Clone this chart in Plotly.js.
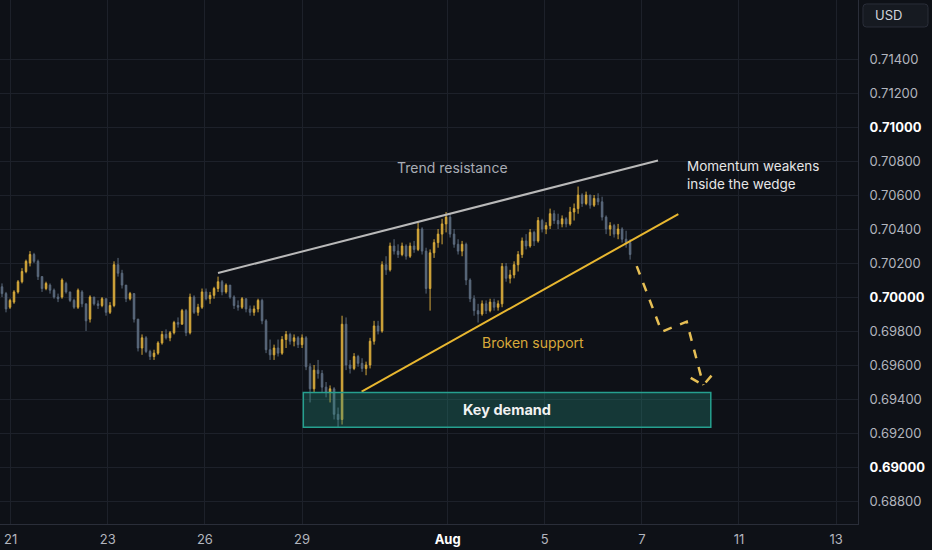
<!DOCTYPE html>
<html><head><meta charset="utf-8">
<script src="https://cdn.plot.ly/plotly-3.0.1.min.js"></script>
<style>html,body{margin:0;padding:0;background:#0e1117;}#chart{width:932px;height:550px;}</style>
</head><body><div id="chart"></div>
<script>
// ~2-hour bars, AUD/USD-style price series
const barOpen = [
0.7006,0.7002,0.6994,0.6997,0.7003,0.7009,0.7015,0.7020,0.7025,0.7021,
0.7012,0.7005,0.7007,0.7004,0.7000,0.7000,0.7008,0.7003,0.6998,0.6994,
0.7003,0.6996,0.6987,0.7000,0.6996,0.6995,0.6999,0.6991,0.6995,0.7019,
0.7014,0.7007,0.6999,0.7002,0.6987,0.6970,0.6976,0.6968,0.6965,0.6967,
0.6973,0.6978,0.6976,0.6979,0.6985,0.6984,0.6992,0.6979,0.7000,0.6991,
0.6994,0.7003,0.6999,0.7001,0.7005,0.7009,0.7003,0.7007,0.7000,0.6995,
0.6994,0.6999,0.6993,0.6991,0.6993,0.6998,0.6986,0.6969,0.6966,0.6970,
0.6967,0.6975,0.6978,0.6974,0.6976,0.6972,0.6976,0.6959,0.6946,0.6957,
0.6955,0.6947,0.6944,0.6946,0.6931,0.6928,0.6984,0.6960,0.6958,0.6965,
0.6961,0.6958,0.6960,0.6974,0.6983,0.6980,0.7019,0.7016,0.7030,0.7027,
0.7025,0.7030,0.7024,0.7030,0.7028,0.7040,0.7027,0.7005,0.7026,0.7032,
0.7037,0.7043,0.7047,0.7037,0.7031,0.7027,0.7031,0.7010,0.6999,0.6992,
0.6990,0.6996,0.6992,0.6997,0.6994,0.6996,0.7018,0.7011,0.7013,0.7019,
0.7025,0.7033,0.7030,0.7038,0.7033,0.7045,0.7040,0.7042,0.7049,0.7045,
0.7043,0.7046,0.7043,0.7050,0.7052,0.7060,0.7055,0.7060,0.7054,0.7058,
0.7056,0.7047,0.7040,0.7042,0.7037,0.7040,0.7034,0.7032];
const barHigh = [
0.7008,0.7003,0.6999,0.7004,0.7010,0.7017,0.7022,0.7027,0.7026,0.7022,
0.7012,0.7009,0.7008,0.7005,0.7002,0.7011,0.7009,0.7003,0.6999,0.7005,
0.7004,0.6996,0.7001,0.7000,0.6998,0.7000,0.6999,0.6997,0.7021,0.7023,
0.7016,0.7007,0.7003,0.7002,0.6987,0.6978,0.6977,0.6969,0.6969,0.6974,
0.6980,0.6981,0.6980,0.6986,0.6988,0.6993,0.6993,0.7002,0.7001,0.6996,
0.7005,0.7005,0.7003,0.7006,0.7012,0.7010,0.7008,0.7007,0.7001,0.6998,
0.7000,0.6999,0.6995,0.6995,0.6999,0.6999,0.6987,0.6975,0.6972,0.6975,
0.6977,0.6980,0.6979,0.6978,0.6977,0.6978,0.6977,0.6961,0.6960,0.6963,
0.6957,0.6950,0.6948,0.6947,0.6935,0.6989,0.6988,0.6963,0.6967,0.6966,
0.6964,0.6962,0.6976,0.6986,0.6986,0.7021,0.7024,0.7032,0.7034,0.7031,
0.7032,0.7031,0.7032,0.7033,0.7044,0.7041,0.7029,0.7028,0.7034,0.7040,
0.7046,0.7050,0.7049,0.7040,0.7034,0.7033,0.7032,0.7011,0.7001,0.6996,
0.6998,0.6998,0.6999,0.6999,0.6998,0.7020,0.7020,0.7016,0.7021,0.7027,
0.7035,0.7037,0.7040,0.7039,0.7047,0.7046,0.7044,0.7052,0.7051,0.7049,
0.7048,0.7047,0.7053,0.7055,0.7065,0.7061,0.7062,0.7060,0.7060,0.7061,
0.7059,0.7048,0.7044,0.7043,0.7043,0.7041,0.7039,0.7034];
const barLow = [
0.7000,0.6991,0.6993,0.6996,0.7002,0.7008,0.7014,0.7018,0.7020,0.7010,
0.7003,0.7004,0.7002,0.6999,0.6997,0.6999,0.7002,0.6997,0.6993,0.6993,
0.6994,0.6980,0.6985,0.6995,0.6993,0.6994,0.6989,0.6990,0.6994,0.7012,
0.7005,0.6997,0.6998,0.6985,0.6968,0.6966,0.6967,0.6963,0.6963,0.6966,
0.6972,0.6975,0.6974,0.6978,0.6982,0.6984,0.6977,0.6978,0.6990,0.6989,
0.6993,0.6998,0.6996,0.6999,0.7003,0.7001,0.7002,0.6999,0.6993,0.6992,
0.6993,0.6991,0.6989,0.6989,0.6991,0.6984,0.6967,0.6963,0.6963,0.6965,
0.6966,0.6970,0.6972,0.6971,0.6970,0.6970,0.6957,0.6938,0.6944,0.6952,
0.6944,0.6941,0.6938,0.6928,0.6923,0.6925,0.6957,0.6955,0.6957,0.6959,
0.6956,0.6954,0.6958,0.6972,0.6978,0.6979,0.7013,0.7015,0.7025,0.7023,
0.7024,0.7022,0.7023,0.7026,0.7027,0.7025,0.7002,0.6992,0.7023,0.7029,
0.7031,0.7038,0.7035,0.7029,0.7025,0.7024,0.7007,0.6997,0.6989,0.6985,
0.6989,0.6990,0.6991,0.6992,0.6992,0.6994,0.7009,0.7008,0.7011,0.7015,
0.7023,0.7028,0.7029,0.7030,0.7032,0.7038,0.7037,0.7040,0.7043,0.7040,
0.7041,0.7041,0.7042,0.7045,0.7049,0.7053,0.7054,0.7052,0.7053,0.7054,
0.7045,0.7037,0.7036,0.7035,0.7034,0.7032,0.7029,0.7022];
const barClose = [
0.7002,0.6993,0.6998,0.7003,0.7009,0.7015,0.7021,0.7025,0.7021,0.7012,
0.7005,0.7008,0.7004,0.7000,0.6999,0.7010,0.7003,0.6998,0.6994,0.7004,
0.6996,0.6986,0.7000,0.6996,0.6995,0.6999,0.6991,0.6995,0.7019,0.7014,
0.7007,0.6999,0.7002,0.6987,0.6970,0.6976,0.6968,0.6965,0.6967,0.6973,
0.6978,0.6976,0.6979,0.6985,0.6984,0.6992,0.6979,0.7000,0.6991,0.6994,
0.7003,0.6999,0.7001,0.7005,0.7009,0.7003,0.7007,0.7000,0.6995,0.6994,
0.6999,0.6993,0.6991,0.6993,0.6998,0.6986,0.6969,0.6966,0.6970,0.6967,
0.6975,0.6978,0.6974,0.6976,0.6972,0.6976,0.6959,0.6946,0.6957,0.6955,
0.6947,0.6944,0.6946,0.6931,0.6928,0.6984,0.6960,0.6958,0.6965,0.6961,
0.6958,0.6960,0.6974,0.6983,0.6980,0.7019,0.7016,0.7030,0.7027,0.7025,
0.7030,0.7024,0.7030,0.7028,0.7040,0.7027,0.7005,0.7026,0.7032,0.7037,
0.7043,0.7047,0.7037,0.7031,0.7027,0.7031,0.7010,0.6999,0.6992,0.6990,
0.6996,0.6992,0.6997,0.6994,0.6996,0.7018,0.7011,0.7013,0.7019,0.7025,
0.7033,0.7030,0.7038,0.7033,0.7045,0.7040,0.7042,0.7049,0.7045,0.7043,
0.7046,0.7043,0.7050,0.7052,0.7060,0.7055,0.7060,0.7054,0.7058,0.7056,
0.7047,0.7040,0.7042,0.7037,0.7040,0.7034,0.7032,0.7025];

// time axis in trading days from Jul 21 (weekends removed)
const firstBarDay = -0.179;
const barStepDays = 0.0824;
const dayTickVals = [0, 2, 4, 6, 9, 11, 13, 15, 17];
const dayTickText = ["21", "23", "26", "29", "Aug", "5", "7", "11", "13"];
const boldDayTicks = ["Aug"];

const priceTickVals = [0.688,0.690,0.692,0.694,0.696,0.698,0.700,0.702,0.704,0.706,0.708,0.710,0.712,0.714];
const priceTickText = ["0.68800","0.69000","0.69200","0.69400","0.69600","0.69800","0.70000","0.70200","0.70400","0.70600","0.70800","0.71000","0.71200","0.71400"];
const boldPriceTicks = ["0.69000","0.70000","0.71000"];

// drawings (day, price)
const resistanceDays = [4.270, 13.333];
const resistancePrices = [0.70141, 0.70803];
const supportDays = [7.228, 13.751];
const supportPrices = [0.69443, 0.70488];
const projectionDays = [12.894, 13.409, 13.924, 14.266, null, 14.006, 14.266, 14.451];
const projectionPrices = [0.70182, 0.69796, 0.69855, 0.69482, null, 0.69524, 0.69482, 0.69543];
const demandDays = [6.027, 14.42];
const demandPrices = [0.69234, 0.69439];

const barDays = barOpen.map((_, i) => firstBarDay + i * barStepDays);

const gold = '#d6a93b', slate = '#5b6a7d';
const FONT = 'Inter, "Noto Sans", sans-serif';

const traces = [
  {
    type: 'candlestick', x: barDays, open: barOpen, high: barHigh, low: barLow, close: barClose,
    increasing: {line: {color: gold, width: 1}, fillcolor: gold},
    decreasing: {line: {color: slate, width: 1}, fillcolor: slate},
    whiskerwidth: 0, hoverinfo: 'skip', showlegend: false
  },
  {type: 'scatter', mode: 'lines', x: resistanceDays, y: resistancePrices,
   line: {color: '#b9b9b9', width: 2}, hoverinfo: 'skip', showlegend: false},
  {type: 'scatter', mode: 'lines', x: supportDays, y: supportPrices,
   line: {color: '#e8b730', width: 2}, hoverinfo: 'skip', showlegend: false},
  {type: 'scatter', mode: 'lines', x: projectionDays, y: projectionPrices, connectgaps: false,
   line: {color: '#e6bf55', width: 2.5, dash: '9px,9px'}, hoverinfo: 'skip', showlegend: false}
];

// rounded USD badge (paper units)
const bx0 = 1.0058, bx1 = 1.0816, by0 = 0.9485, by1 = 0.9924, rx = 0.0040, ry = 0.0065;
const badgePath = `M ${bx0+rx},${by1} L ${bx1-rx},${by1} Q ${bx1},${by1} ${bx1},${by1-ry} L ${bx1},${by0+ry} Q ${bx1},${by0} ${bx1-rx},${by0} L ${bx0+rx},${by0} Q ${bx0},${by0} ${bx0},${by0+ry} L ${bx0},${by1-ry} Q ${bx0},${by1} ${bx0+rx},${by1} Z`;

const layout = {
  width: 932, height: 550,
  margin: {l: 0, r: 74, t: 0, b: 26},
  paper_bgcolor: '#0e1117', plot_bgcolor: '#0e1117',
  font: {family: FONT, color: '#b2b5be', size: 13},
  boxgap: 0.45,
  showlegend: false,
  xaxis: {
    type: 'linear', range: [-0.2204, 17.452], rangeslider: {visible: false},
    tickmode: 'array', tickvals: dayTickVals,
    ticktext: dayTickText.map(t => boldDayTicks.includes(t) ? '<b><span style="color:#ffffff">' + t + '</span></b>' : t),
    showgrid: true, gridcolor: '#1d212a', gridwidth: 1, zeroline: false,
    showline: true, linecolor: '#2a2e39', linewidth: 1,
    ticks: '', ticklabelstandoff: 3, tickfont: {family: FONT, size: 13, color: '#b2b5be'},
    fixedrange: true
  },
  yaxis: {
    type: 'linear', side: 'right', range: [0.68665, 0.71747],
    tickmode: 'array', tickvals: priceTickVals,
    ticktext: priceTickText.map(t => boldPriceTicks.includes(t) ? '<b><span style="color:#ffffff">' + t + '</span></b>' : t),
    showgrid: true, gridcolor: '#1d212a', gridwidth: 1, zeroline: false,
    showline: true, linecolor: '#2a2e39', linewidth: 1,
    ticks: '', ticklabelstandoff: 8, tickfont: {family: FONT, size: 13, color: '#b2b5be'},
    fixedrange: true
  },
  shapes: [
    {type: 'rect', xref: 'x', yref: 'y', x0: demandDays[0], x1: demandDays[1], y0: demandPrices[0], y1: demandPrices[1],
     fillcolor: 'rgba(38,140,125,0.32)', line: {color: '#26a08f', width: 1.5}, layer: 'above'},
    {type: 'path', xref: 'paper', yref: 'paper', path: badgePath,
     fillcolor: '#161a21', line: {color: '#2a2e39', width: 1}}
  ],
  annotations: [
    {xref: 'paper', yref: 'paper', x: 1.0175, y: 0.9705, xanchor: 'left', yanchor: 'middle', showarrow: false,
     text: 'USD', font: {family: FONT, size: 13, color: '#d1d4dc'}},
    {xref: 'x', yref: 'y', x: 9.110, y: 0.70759, showarrow: false, xanchor: 'center', yanchor: 'middle',
     text: 'Trend resistance', font: {family: FONT, size: 14, color: '#a9adb5'}},
    {xref: 'x', yref: 'y', x: 10.758, y: 0.69735, showarrow: false, xanchor: 'center', yanchor: 'middle',
     text: 'Broken support', font: {family: FONT, size: 14, color: '#d9a93a'}},
    {xref: 'x', yref: 'y', x: 13.88, y: 0.70720, showarrow: false, xanchor: 'left', yanchor: 'middle', align: 'left',
     text: 'Momentum weakens<br>inside the wedge', font: {family: FONT, size: 13.5, color: '#e6e6e6'}},
    {xref: 'x', yref: 'y', x: (demandDays[0] + demandDays[1]) / 2, y: (demandPrices[0] + demandPrices[1]) / 2,
     showarrow: false, xanchor: 'center', yanchor: 'middle',
     text: '<b>Key demand</b>', font: {family: FONT, size: 14.5, color: '#f2f2f2'}}
  ]
};

Plotly.newPlot('chart', traces, layout, {displayModeBar: false, staticPlot: true});
</script>
</body></html>
